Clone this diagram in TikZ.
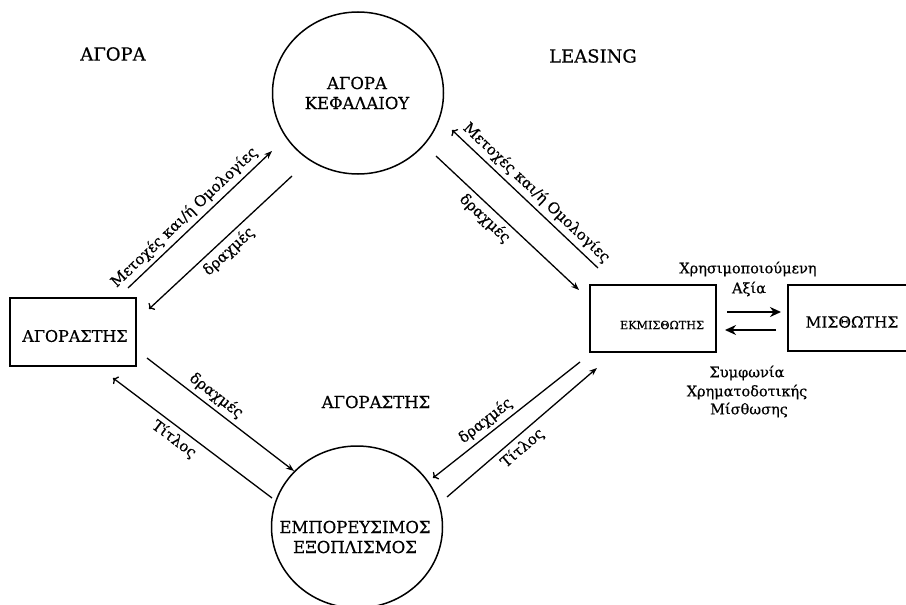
\documentclass[tikz,border=0pt]{standalone}
\usepackage{fontspec}
\setmainfont{DejaVu Serif}[FakeBold=0.5]
\usetikzlibrary{arrows.meta,shapes.geometric}
\begin{document}
\begin{tikzpicture}[x=1pt,y=-1pt,
  titlecaps/.style={font=\fontsize{18}{20}\selectfont, inner sep=0pt},
  bubbletxt/.style={font=\fontsize{16.5}{20}\selectfont, align=center, inner sep=0pt},
  boxtxt/.style={inner sep=0pt},
  flowlbl/.style={font=\fontsize{15}{17}\selectfont, sloped, inner sep=4pt},
  sidelbl/.style={font=\fontsize{14.5}{16}\selectfont, inner sep=0pt},
  bubble/.style={draw, ellipse, line width=1.5pt, minimum width=171pt, minimum height=162pt, inner sep=0pt},
  party/.style={draw, rectangle, line width=1.5pt, inner sep=0pt},
  flow/.style={line width=1.3pt, -{Stealth[length=8pt,width=6pt]}},
  bigflow/.style={line width=2.6pt, -{Stealth[length=11pt,width=10pt]}}
]
\useasboundingbox (0,0) rectangle (906,605);

% circles
\node[bubble] (kef) at (358,93) {};
\node[bubbletxt] (keftxt) at (357,93) {ΑΓΟΡΑ\\ΚΕΦΑΛΑΙΟΥ};
\node[bubble] (eq) at (357,527) {};
\node[bubbletxt] (eqtxt) at (355,537) {ΕΜΠΟΡΕΥΣΙΜΟΣ\\ΕΞΟΠΛΙΣΜΟΣ};

% boxes
\node[party, minimum width=126pt, minimum height=68pt] (buyer) at (73,332) {};
\node[boxtxt, font=\fontsize{16}{18}\selectfont] (buyertxt) at (75,336) {ΑΓΟΡΑΣΤΗΣ};
\node[party, minimum width=126pt, minimum height=67pt] (lessor) at (653,318.5) {};
\node[boxtxt, font=\fontsize{11.2}{13}\selectfont] (lessortxt) at (662,325) {ΕΚΜΙΣΘΩΤΗΣ};
\node[party, minimum width=128pt, minimum height=66pt] (lessee) at (852,318) {};
\node[boxtxt, font=\fontsize{15.4}{17}\selectfont] (lesseetxt) at (852,322) {ΜΙΣΘΩΤΗΣ};

% titles
\node[titlecaps] (tagora) at (113,54) {ΑΓΟΡΑ};
\node[titlecaps] (tleasing) at (593,56) {LEASING};
\node[bubbletxt] (tbuyer) at (376,402) {ΑΓΟΡΑΣΤΗΣ};

% connector end points
\coordinate (a1s) at (128,288);  \coordinate (a1e) at (272,151);
\coordinate (a2s) at (149,309);  \coordinate (a2e) at (292,176);
\coordinate (a3s) at (452,130);  \coordinate (a3e) at (598,268);
\coordinate (a4s) at (436,156);  \coordinate (a4e) at (579,290);
\coordinate (a5s) at (147,358);  \coordinate (a5e) at (294,471);
\coordinate (a6s) at (113,378);  \coordinate (a6e) at (272,498);
\coordinate (a7s) at (433,478);  \coordinate (a7e) at (580,362);
\coordinate (a8s) at (447,497);  \coordinate (a8e) at (597,368);

% buyer <-> capital market
\draw[flow] (a1s) -- (a1e) node[flowlbl, pos=0.45, above] {Μετοχές και/ή Ομολογίες};
\draw[flow, <-] (a2s) -- (a2e) node[flowlbl, pos=0.5, below] {δραχμές};
% capital market <-> lessor
\draw[flow, <-] (a3s) -- (a3e) node[flowlbl, pos=0.52, above] {Μετοχές και/ή Ομολογίες};
\draw[flow] (a4s) -- (a4e) node[flowlbl, pos=0.4, below] {δραχμές};
% buyer <-> equipment
\draw[flow] (a5s) -- (a5e) node[flowlbl, pos=0.42, above] {δραχμές};
\draw[flow, <-] (a6s) -- (a6e) node[flowlbl, pos=0.43, below] {Τίτλος};
% equipment <-> lessor
\draw[flow, <-] (a7s) -- (a7e) node[flowlbl, pos=0.41, above] {δραχμές};
\draw[flow] (a8s) -- (a8e) node[flowlbl, pos=0.45, below] {Τίτλος};

% lessor <-> lessee
\coordinate (b1s) at (727,312); \coordinate (b1e) at (781,312);
\coordinate (b2s) at (776,330); \coordinate (b2e) at (725,330);
\draw[bigflow] (b1s) -- (b1e);
\draw[bigflow] (b2s) -- (b2e);

\node[sidelbl] (used) at (748,269) {Χρησιμοποιούμενη};
\node[sidelbl] (value) at (749,289) {Αξία};
\node[sidelbl] (agr1) at (747,373) {Συμφωνία};
\node[sidelbl] (agr2) at (747,392) {Χρηματοδοτικής};
\node[sidelbl] (agr3) at (749,410) {Μίσθωσης};
\end{tikzpicture}
\end{document}
